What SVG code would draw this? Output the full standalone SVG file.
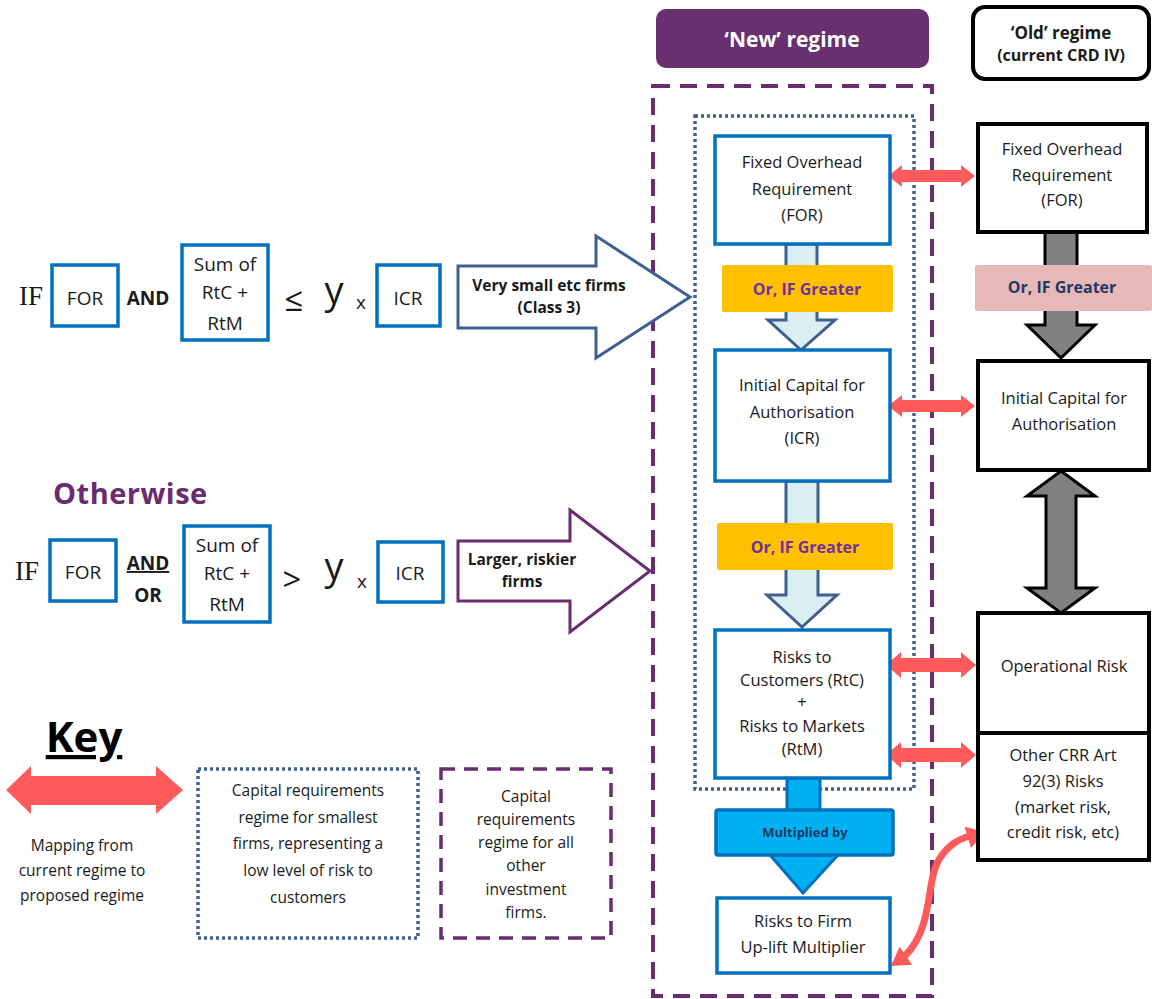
<svg xmlns="http://www.w3.org/2000/svg" width="1152" height="999" viewBox="0 0 1152 999">
<defs>
<style>
.t{font-family:"Open Sans","Noto Sans",sans-serif;font-size:16.5px;fill:#1a1a1a;text-anchor:middle}
.k{font-family:"Open Sans","Noto Sans",sans-serif;font-size:15.5px;fill:#1a1a1a;text-anchor:middle}
.c{font-family:"Open Sans","Noto Sans",sans-serif;font-size:19px;fill:#1a1a1a;text-anchor:middle}
.a{font-family:"Open Sans","Noto Sans",sans-serif;font-size:15.5px;font-weight:bold;fill:#1a1a1a;text-anchor:middle}
.b{font-weight:bold}
.nb{fill:#fff;stroke:#0070C0;stroke-width:3.5}
.ob{fill:#fff;stroke:#000;stroke-width:4}
.eq{fill:#fff;stroke:#0070C0;stroke-width:3.5}
.red{fill:#FF5B5B}
.ga{fill:#808080;stroke:#000;stroke-width:3;stroke-linejoin:miter}
.la{fill:#DAEEF3;stroke:#3F5F8F;stroke-width:3;stroke-linejoin:miter}
.og{fill:#FFC000}
.ogt{font-family:"Open Sans","Noto Sans",sans-serif;font-size:16px;font-weight:bold;fill:#7030A0;text-anchor:middle}
</style>
</defs>

<g id="new-header"><rect x="656" y="9" width="273" height="59" rx="10" fill="#68306E"/><text x="792" y="47" class="t b" style="fill:#fff;font-size:21px">‘New’ regime</text></g>
<g id="old-header"><rect x="973" y="7" width="176" height="72" rx="12" fill="#fff" stroke="#000" stroke-width="4"/><text x="1061" y="39" class="t b" style="font-size:17px">‘Old’ regime</text><text x="1061" y="61" class="t b" style="font-size:16px">(current CRD IV)</text></g>

<g id="new-regime-area"><rect x="653" y="86" width="279" height="910" fill="none" stroke="#6A2C70" stroke-width="4" stroke-dasharray="17,10"/></g>
<g id="small-regime-area"><rect x="695" y="116" width="219" height="673" fill="none" stroke="#3F5F8F" stroke-width="3.5" stroke-dasharray="3,3"/></g>

<g id="connectors">
<path class="la" d="M786,244 V320 H768 L801,350 L835,320 H817 V244 Z"/>
<path class="la" d="M786,481 V595 H767 L802,627 L837,595 H818 V481 Z"/>
<path d="M787,778 V812 H820 V778 Z M770,855 L803,893 L838,855 Z" fill="#00B0F0" stroke="#0070C0" stroke-width="3" stroke-linejoin="miter"/>
<path class="ga" d="M1045,232 V325 H1027 L1061,358 L1095,325 H1077 V232 Z"/>
<path class="ga" d="M1061,471 L1095,496 H1076 V588 H1095 L1061,613 L1027,588 H1046 V496 H1027 Z"/>
<path class="red" d="M888,176 L902,165 V170 H961 V165 L975,176 L961,187 V182 H902 V187 Z"/>
<path class="red" d="M888,406 L902,395 V400 H961 V395 L975,406 L961,417 V412 H902 V417 Z"/>
<path class="red" d="M886,665 L901,652 V658 H961 V652 L976,665 L961,678 V672 H901 V678 Z"/>
<path class="red" d="M886,755 L901,742 V748 H961 V742 L976,755 L961,768 V762 H901 V768 Z"/>
<path d="M905,956 C935,925 925,880 940,858 C950,843 960,839 970,836" fill="none" stroke="#FF5B5B" stroke-width="7"/>
<path class="red" d="M985,832 L971,848 L964.6,826.7 Z"/>
<path class="red" d="M891,966 L912.1,964.7 L899.5,946.7 Z"/>
<path d="M458,266 H596 V236 L690,297 L596,358 V328 H458 Z" fill="#fff" stroke="#3F5F8F" stroke-width="3" stroke-linejoin="miter"/>
<path d="M458,541 H570 V510 L650,571 L570,632 V601 H458 Z" fill="#fff" stroke="#6A2C70" stroke-width="3" stroke-linejoin="miter"/>
</g>

<g id="arrow1-label"><text x="549" y="291" class="a">Very small etc firms</text><text x="549" y="313" class="a">(Class 3)</text></g>
<g id="arrow2-label"><text x="522" y="565" class="a">Larger, riskier</text><text x="522" y="587" class="a">firms</text></g>

<g id="new-for"><rect class="nb" x="715" y="136" width="175" height="108"/><text x="802" y="168" class="t">Fixed Overhead</text><text x="802" y="195" class="t">Requirement</text><text x="802" y="221" class="t">(FOR)</text></g>
<g id="or1"><rect class="og" x="722" y="265" width="171" height="47" rx="2"/><text x="807" y="295" class="ogt">Or, IF Greater</text></g>
<g id="new-icr"><rect class="nb" x="715" y="350" width="175" height="131"/><text x="802" y="391" class="t">Initial Capital for</text><text x="802" y="418" class="t">Authorisation</text><text x="802" y="444" class="t">(ICR)</text></g>
<g id="or2"><rect class="og" x="717" y="523" width="176" height="47" rx="2"/><text x="805" y="553" class="ogt">Or, IF Greater</text></g>
<g id="new-rtc"><rect class="nb" x="715" y="630" width="175" height="148"/><text x="802" y="663" class="t">Risks to</text><text x="802" y="686" class="t">Customers (RtC)</text><text x="802" y="708" class="t">+</text><text x="802" y="732" class="t">Risks to Markets</text><text x="802" y="755" class="t">(RtM)</text></g>
<g id="multiplied"><rect x="716" y="810" width="177" height="45" fill="#00B0F0" stroke="#0070C0" stroke-width="3.5" rx="2"/><text x="805" y="837" class="t b" style="font-size:13px;fill:#1F3864">Multiplied  by</text></g>
<g id="new-rtf"><rect class="nb" x="717" y="898" width="173" height="75"/><text x="803" y="927" class="t">Risks to Firm</text><text x="803" y="953" class="t">Up-lift Multiplier</text></g>

<g id="old-for"><rect class="ob" x="978" y="124" width="169" height="108"/><text x="1062" y="155" class="t">Fixed Overhead</text><text x="1062" y="181" class="t">Requirement</text><text x="1062" y="206" class="t">(FOR)</text></g>
<g id="or-old"><rect x="975" y="265" width="177" height="46" fill="#E6B8B7" rx="2"/><text x="1062" y="293" class="ogt" style="fill:#1F3864">Or, IF Greater</text></g>
<g id="old-ica"><rect class="ob" x="978" y="361" width="171" height="109"/><text x="1064" y="404" class="t">Initial Capital for</text><text x="1064" y="430" class="t">Authorisation</text></g>
<g id="old-op"><rect class="ob" x="978" y="613" width="171" height="120"/><text x="1064" y="672" class="t">Operational Risk</text></g>
<g id="old-other"><rect class="ob" x="978" y="733" width="171" height="127"/><text x="1063" y="761" class="t">Other CRR Art</text><text x="1063" y="787" class="t">92(3) Risks</text><text x="1063" y="813" class="t">(market risk,</text><text x="1063" y="838" class="t">credit risk, etc)</text></g>

<g id="cond1">
<text x="19" y="305" style="font-family:'Liberation Serif',serif;font-size:27px;fill:#1a1a1a">IF</text>
<rect class="eq" x="52" y="265" width="66" height="61"/><text x="85" y="305" class="c">FOR</text>
<text x="148" y="305" class="c b" style="font-size:19px">AND</text>
<rect class="eq" x="182" y="245" width="86" height="95"/><text x="225" y="271" class="c">Sum of</text><text x="225" y="299" class="c">RtC +</text><text x="225" y="330" class="c">RtM</text>
<text x="294" y="311" class="c" style="font-size:33px">≤</text>
<text x="334" y="304" class="c" style="font-size:38px">y</text>
<text x="361" y="309" class="c" style="font-size:19px">x</text>
<rect class="eq" x="377" y="265" width="63" height="61"/><text x="408" y="305" class="c">ICR</text>
</g>

<g id="otherwise"><text x="53" y="504" style="font-family:'Open Sans','Noto Sans',sans-serif;font-size:29px;font-weight:bold;fill:#6A2C70;letter-spacing:0.5px">Otherwise</text></g>

<g id="cond2">
<text x="15" y="580" style="font-family:'Liberation Serif',serif;font-size:27px;fill:#1a1a1a">IF</text>
<rect class="eq" x="50" y="540" width="66" height="61"/><text x="83" y="579" class="c">FOR</text>
<text x="148" y="570" class="c b" style="text-decoration:underline">AND</text>
<text x="148" y="602" class="c b">OR</text>
<rect class="eq" x="184" y="526" width="86" height="96"/><text x="227" y="552" class="c">Sum of</text><text x="227" y="580" class="c">RtC +</text><text x="227" y="611" class="c">RtM</text>
<text x="292" y="591" class="c" style="font-size:33px">&gt;</text>
<text x="334" y="580" class="c" style="font-size:38px">y</text>
<text x="362" y="588" class="c" style="font-size:19px">x</text>
<rect class="eq" x="378" y="542" width="65" height="60"/><text x="410" y="580" class="c">ICR</text>
</g>

<g id="key">
<text x="84" y="752" class="c b" style="font-size:42px;text-decoration:underline;fill:#000">Key</text>
<path class="red" d="M6,790 L31,766 V776 H156 V766 L183,790 L156,814 V805 H31 V814 Z"/>
<text x="82" y="851" class="k">Mapping from</text><text x="82" y="876" class="k">current regime to</text><text x="82" y="901" class="k">proposed regime</text>
</g>
<g id="key-small"><rect x="198" y="769" width="220" height="169" fill="none" stroke="#3F5F8F" stroke-width="3.5" stroke-dasharray="3,3"/><text x="308" y="796" class="k">Capital requirements</text><text x="308" y="823" class="k">regime for smallest</text><text x="308" y="849" class="k">firms, representing a</text><text x="308" y="876" class="k">low level of risk to</text><text x="308" y="903" class="k">customers</text></g>
<g id="key-other"><rect x="441" y="769" width="170" height="169" fill="none" stroke="#6A2C70" stroke-width="3.5" stroke-dasharray="14,9"/><text x="526" y="802" class="k">Capital</text><text x="526" y="825" class="k">requirements</text><text x="526" y="848" class="k">regime for all</text><text x="526" y="871" class="k">other</text><text x="526" y="895" class="k">investment</text><text x="526" y="918" class="k">firms.</text></g>
</svg>
